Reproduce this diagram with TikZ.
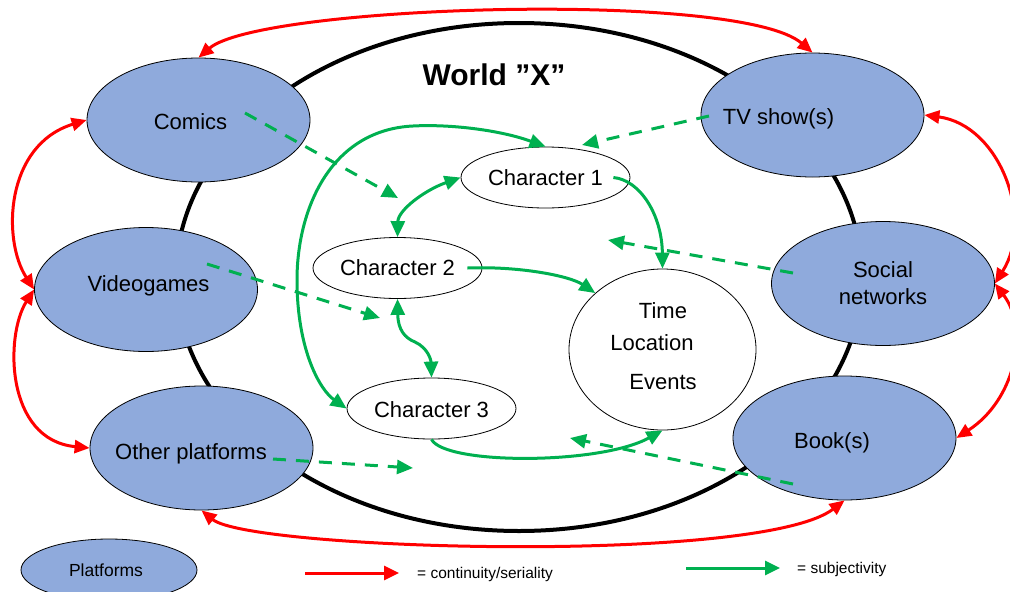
\documentclass[tikz,border=0pt]{standalone}
\usepackage{fontspec}
\setmainfont{Liberation Sans}
\usetikzlibrary{shapes.geometric,arrows.meta}
\definecolor{platblue}{HTML}{8FAADC}
\definecolor{subjgreen}{HTML}{00B050}
\begin{document}
\begin{tikzpicture}[x=1pt,y=-1pt,
  platform/.style={ellipse, draw=black, line width=0.8pt, fill=platblue,
    minimum width=223pt, minimum height=124pt, inner sep=0pt},
  ptext/.style={font=\fontsize{22}{27}\selectfont, align=center, inner sep=0pt},
  character/.style={ellipse, draw=black, line width=0.8pt, fill=white,
    minimum width=169pt, minimum height=61pt, inner sep=0pt,
    font=\fontsize{22}{26}\selectfont},
  serial/.style={red, line width=3pt, >={Triangle[length=15pt,width=13pt]}, <->},
  subj/.style={subjgreen, line width=3pt, >={Triangle[length=16pt,width=14pt]}},
  subjdash/.style={subj, ->, dash pattern=on 13pt off 10pt},
]
\useasboundingbox (0,0) rectangle (1010,592);

% the world
\draw[line width=4pt] (519,277) ellipse [x radius=343, y radius=254];
\node[font=\bfseries\fontsize{30}{34}\selectfont] (world) at (494,75) {World ”X”};

% platforms
\node[platform, label={[ptext, xshift=-8pt, yshift=-2pt]center:Comics}] (comics) at (198.5,120) {};
\node[platform, label={[ptext, xshift=-34pt, yshift=-4pt]center:TV show(s)}] (tv) at (812.5,115) {};
\node[platform, label={[ptext, xshift=2.5pt, yshift=3.5pt]center:Videogames}] (videogames) at (146,289.5) {};
\node[platform, label={[ptext]center:Social\\networks}] (social) at (883,283.5) {};
\node[platform, label={[ptext, xshift=-10.5pt, yshift=-6pt]center:Other platforms}] (other) at (201.5,448) {};
\node[platform, label={[ptext, xshift=-12.5pt, yshift=-5pt]center:Book(s)}] (book) at (844.5,438) {};

% characters and setting
\node[character] (ch1) at (545.5,177.5) {Character 1};
\node[character] (ch2) at (397.5,268) {Character 2};
\node[character, label={[font=\fontsize{22}{26}\selectfont, inner sep=0pt, yshift=-1.5pt]center:Character 3}] (ch3) at (431.5,408.5) {\phantom{Character 3}};
\node[ellipse, draw=black, line width=0.8pt, fill=white, minimum width=187pt,
  minimum height=161pt, inner sep=0pt,
  label={[ptext, xshift=0.5pt, yshift=38.5pt]center:Time},
  label={[ptext, xshift=-10.5pt, yshift=6.5pt]center:Location},
  label={[ptext, xshift=0.5pt, yshift=-32.5pt]center:Events}] (time) at (662.5,349.5) {};

% continuity / seriality between platforms
\draw[serial] (comics.north) .. controls (260,5) and (740,-10) .. (tv.north);
\draw[serial] (comics.west) .. controls (5,145) and (2,240) .. (videogames.west);
\draw[serial] (videogames.west) .. controls (5,335) and (5,440) .. (other.west);
\draw[serial] (tv.east) .. controls (1000,125) and (1035,220) .. (social.east);
\draw[serial] (social.east) .. controls (1030,330) and (1015,400) .. (book.east);
\draw[serial] (other.south) .. controls (250,550) and (760,565) .. (book.south);

% subjectivity inside the world
\draw[subj, <->] (ch1.north) .. controls (500,130) and (450,124) .. (413,126)
  .. controls (330,130) and (297,210) .. (297,280)
  .. controls (297,350) and (320,390) .. (ch3.west);
\draw[subj, <->] (ch1.west) .. controls (425,190) and (398,210) .. (ch2.north);
\draw[subj, <->] (ch2.south) .. controls (398,330) and (405,338) .. (415,342)
  .. controls (428,348) and (431,360) .. (ch3.north);
\draw[subj, ->] ([xshift=-17pt]ch1.east) .. controls (640,180) and (662,215) .. (time.north);
\draw[subj, ->] ([xshift=-15pt]ch2.east) .. controls (520,266) and (570,276) .. (time.140);
\draw[subj, ->] (ch3.south) .. controls (445,465) and (600,465) .. (time.south);

% subjectivity from the platforms
\coordinate (cmT) at (398,198);
\coordinate (tvT) at (582,145);
\coordinate (vgT) at (380,318);
\coordinate (snT) at (608,240);
\coordinate (opT) at (413,468);
\coordinate (bkT) at (570,438);
\draw[subjdash] ([shift={(46.5,-7)}]comics.center) -- (cmT);
\draw[subjdash] ([shift={(-103.5,1)}]tv.center) -- (tvT);
\draw[subjdash] ([shift={(61,-25.5)}]videogames.center) -- (vgT);
\draw[subjdash] ([shift={(-90,-10.5)}]social.center) -- (snT);
\draw[subjdash] ([shift={(71.5,11)}]other.center) -- (opT);
\draw[subjdash] ([shift={(-51.5,46)}]book.center) -- (bkT);

% legend
\node[platform, minimum width=176pt, minimum height=62pt,
  label={[inner sep=0pt, font=\fontsize{17.5}{20}\selectfont, xshift=-3pt]center:Platforms}] (legplat) at (109,570) {};
\coordinate (legRa) at (305,573);
\coordinate (legRb) at (399,573);
\draw[red, line width=3pt, -{Triangle[length=15pt,width=14pt]}] (legRa) -- (legRb);
\node[anchor=west, inner sep=0pt, font=\fontsize{15.5}{18}\selectfont] (legRtxt) at (417,574) {= continuity/seriality};
\coordinate (legGa) at (686,568);
\coordinate (legGb) at (780,568);
\draw[subj, -{Triangle[length=15pt,width=14pt]}] (legGa) -- (legGb);
\node[anchor=west, inner sep=0pt, font=\fontsize{15.5}{18}\selectfont] (legGtxt) at (797,569) {= subjectivity};
\end{tikzpicture}
\end{document}
